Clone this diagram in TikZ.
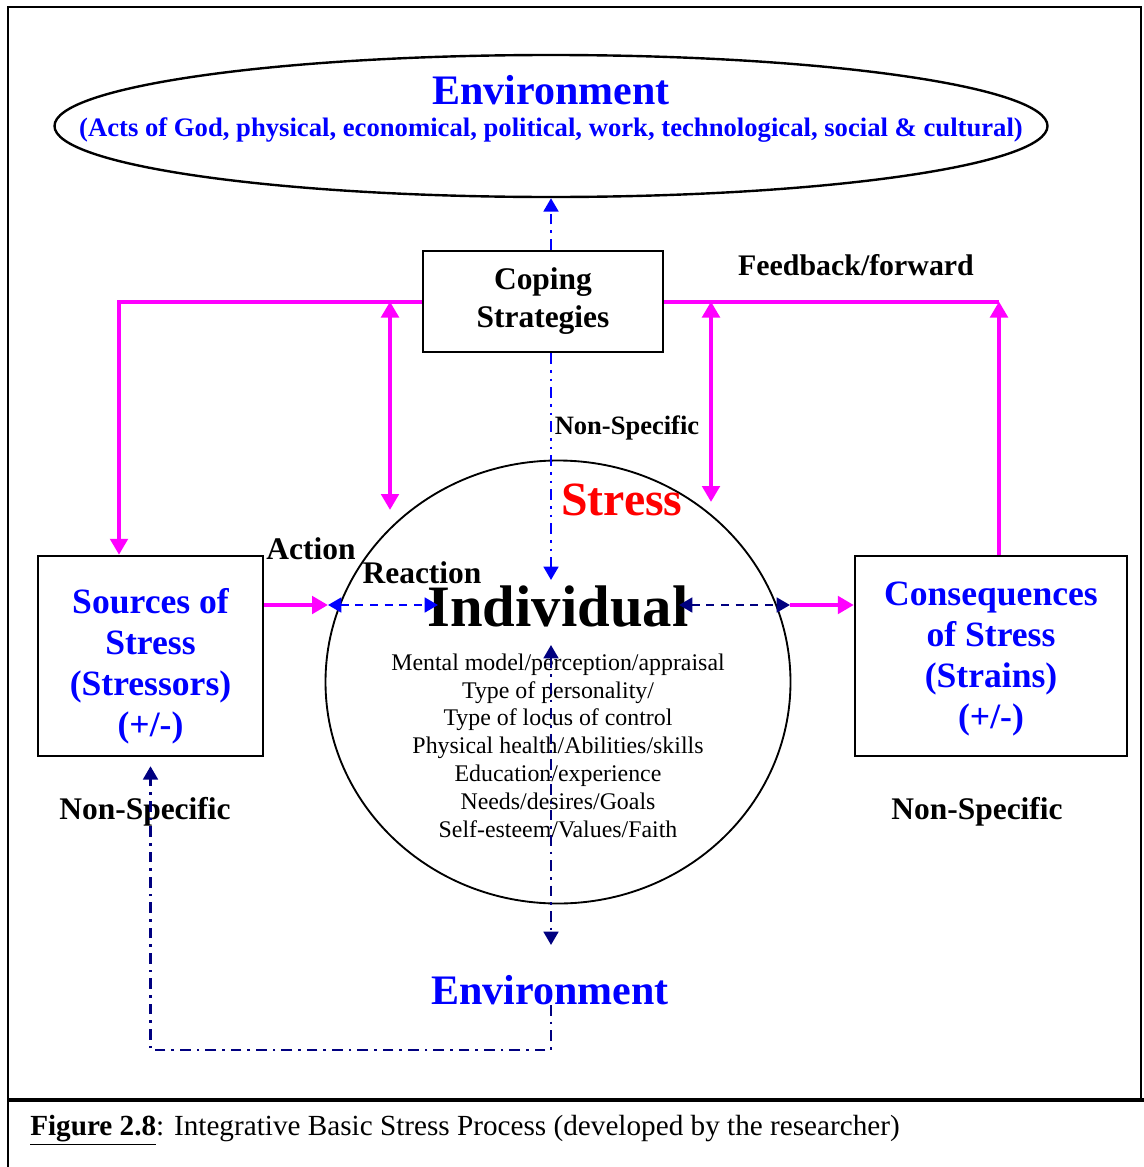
\documentclass[tikz,border=0pt]{standalone}
\usepackage{fontspec}
\setmainfont{Liberation Serif}
\usetikzlibrary{calc,positioning,arrows.meta,shapes.geometric}
\definecolor{pinkarrow}{RGB}{255,0,255}
\definecolor{envblue}{RGB}{0,0,255}
\definecolor{darkblue}{RGB}{0,0,128}
\definecolor{stressred}{RGB}{255,0,0}

\begin{document}
\begin{tikzpicture}[x=0.75pt,y=-0.75pt,
  box/.style={draw,line width=1.8pt,rectangle,inner sep=0pt,align=center},
  bluetext/.style={text=envblue,align=center,font=\bfseries\fontsize{26.7}{30.75}\selectfont},
  blacklabel/.style={font=\bfseries\fontsize{23.6}{28}\selectfont},
  pinkline/.style={draw=pinkarrow,line width=3pt},
  tip/.style={-{Triangle[length=12pt,width=13pt]}},
  bothtips/.style={{Triangle[length=12pt,width=13pt]}-{Triangle[length=12pt,width=13pt]}},
  dottip/.style={-{Triangle[length=10pt,width=11pt]}},
  dotboth/.style={{Triangle[length=10pt,width=11pt]}-{Triangle[length=10pt,width=11pt]}},
  dashdotline/.style={line width=2pt,dash pattern=on 8pt off 4.5pt on 2pt off 4.5pt},
  dashdotdotline/.style={line width=2pt,dash pattern=on 8pt off 4.5pt on 2pt off 4.5pt on 2pt off 4.5pt},
  dashline/.style={line width=2pt,dash pattern=on 6pt off 5pt}]
\useasboundingbox (0,0) rectangle (1144,1167);
\draw[line width=1.8pt] (1141,1100)--(1141,7)--(8,7)--(8,1167);
\draw[line width=2.4pt] (8,1100)--(1144,1100);

\node[ellipse,draw,line width=1.8pt,minimum width=744.75pt,minimum height=106.5pt,inner sep=0pt] (env) at (551,126) {};
\node[text=envblue,font=\bfseries\fontsize{31.5}{36}\selectfont] (envtitle) at (551,90) {Environment};
\node[text=envblue,font=\bfseries\fontsize{20}{24}\selectfont] (envlist) at (551,130) {(Acts of God, physical, economical, political, work, technological, social \& cultural)};

\node[box,minimum width=180pt,minimum height=75.75pt,font=\bfseries\fontsize{23.6}{28.5}\selectfont] (cope) at (543,301.5) {Coping\\Strategies};
\node[box,minimum width=168.75pt,minimum height=150pt] (src) at (150.5,656) {};
\node[bluetext] (srctext) at (150.5,666) {Sources of\\Stress\\(Stressors)\\(+/-)};
\node[box,minimum width=204pt,minimum height=150pt] (cons) at (991,656) {};
\node[bluetext] (constext) at (991,659) {Consequences\\of Stress\\(Strains)\\(+/-)};
\node[ellipse,draw,line width=1.4pt,minimum width=348.75pt,minimum height=332.25pt,inner sep=0pt] (indiv) at (558,682) {};

\node[text=stressred,font=\bfseries\fontsize{35.8}{42}\selectfont] (stress) at (622,500) {Stress};
\node[font=\bfseries\fontsize{44}{50}\selectfont] (indivtext) at (558,606) {Individual};
\node[align=center,font=\fontsize{17.9}{20.85}\selectfont] (traits) at (558,745.5) {Mental model/perception/appraisal\\Type of personality/\\Type of locus of control\\Physical health/Abilities/skills\\Education/experience\\Needs/desires/Goals\\Self-esteem/Values/Faith};

\node[blacklabel] (action) at (311,549) {Action};
\node[blacklabel] (reaction) at (422,573) {Reaction};
\node[blacklabel] (nsleft) at (145,812) {Non-Specific};
\node[blacklabel] (nsright) at (977,812) {Non-Specific};
\node[font=\bfseries\fontsize{19.9}{24}\selectfont] (nstop) at (627,428) {Non-Specific};
\node[font=\bfseries\fontsize{22.4}{27}\selectfont] (feedback) at (856,265) {Feedback/forward};
\node[text=envblue,font=\bfseries\fontsize{31.5}{36}\selectfont] (envbottom) at (550,990) {Environment};

\coordinate (lcorner) at ($(src.north)+(-31.5,0)$);
\coordinate (rcorner) at ($(cons.north)+(8,0)$);
\coordinate (lup) at (390,510);
\coordinate (rup) at (711,502);
\coordinate (aL) at (328,605);
\coordinate (aR) at (438,605);
\coordinate (bL) at (679,605);
\coordinate (bR) at (790,605);
\coordinate (ctop) at (551,580);
\coordinate (cmid) at (551,645);
\coordinate (cbot) at (551,945);
\coordinate (benv) at (551,1005);
\coordinate (bcorner) at (551,1050);

\draw[pinkline,tip] (cope.west) -| (lcorner);
\draw[pinkline,tip] (rcorner) -- (rcorner |- cope.east);
\draw[pinkline] (rcorner |- cope.east) -- (cope.east);
\draw[pinkline,bothtips] (lup |- cope.west) -- (lup);
\draw[pinkline,bothtips] (rup |- cope.east) -- (rup);
\draw[pinkline,tip] (src.east |- aL) -- (aL);
\draw[pinkline,tip] (bR) -- (cons.west |- bR);

\draw[envblue,dashline,dotboth] (aL) -- (aR);
\draw[darkblue,dashline,dotboth] (bL) -- (bR);

\draw[envblue,dashdotline,dottip] (env.south |- cope.north) -- (env.south);
\draw[envblue,dashdotdotline,dottip] (env.south |- cope.south) -- (ctop);
\draw[darkblue,dashdotline,dotboth] (cmid) -- (cbot);
\draw[darkblue,dashdotline,dottip] (benv) -- (bcorner) -| ($(src.south)+(0,9)$);

\node[anchor=west,inner sep=0pt,font=\fontsize{21.9}{26}\selectfont] (caption) at (30,1130) {\underline{\textbf{Figure 2.8}}: Integrative Basic Stress Process (developed by the researcher)};
\end{tikzpicture}
\end{document}
